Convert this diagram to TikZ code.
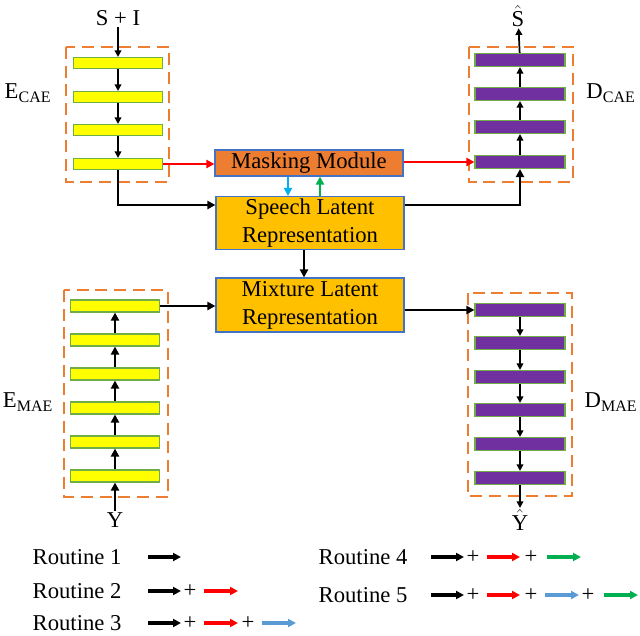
\documentclass[tikz,border=0pt]{standalone}
\usepackage{fontspec}
\setmainfont{Liberation Serif}
\usetikzlibrary{arrows.meta}
\definecolor{dorange}{RGB}{237,125,49}
\definecolor{ybar}{RGB}{255,255,0}
\definecolor{pbar}{RGB}{112,48,160}
\definecolor{gedge}{RGB}{112,173,71}
\definecolor{lat}{RGB}{255,192,0}
\definecolor{mask}{RGB}{237,125,49}
\definecolor{bedge}{RGB}{68,114,196}
\definecolor{cblue}{RGB}{0,176,240}
\definecolor{lblue}{RGB}{91,155,213}
\definecolor{cgreen}{RGB}{0,176,80}
\definecolor{cred}{RGB}{255,0,0}
\tikzset{
 every node/.style={font=\fontsize{17}{19}\selectfont},
 dbox/.style={draw=dorange,line width=2.2pt,dash pattern=on 9pt off 5pt},
 ybar/.style={draw=gedge,fill=ybar,line width=0.8pt},
 pbar/.style={draw=gedge,fill=pbar,line width=0.8pt},
 latent/.style={draw=bedge,fill=lat,line width=0.8pt,align=center,inner sep=0pt},
 arr/.style={line width=1.3pt,-{Triangle[length=5pt,width=5pt]}},
 carr/.style={line width=1.6pt,-{Triangle[length=6pt,width=6pt]}},
 thk/.style={line width=2.2pt,-{Triangle[length=6pt,width=6pt]}},
 larr/.style={line width=2.4pt,-{Triangle[length=6pt,width=6pt]}},
}
\begin{document}
\begin{tikzpicture}[x=0.75pt,y=-0.75pt]
\useasboundingbox (0,0) rectangle (640,636);
% dashed boxes
\draw[dbox] (66,47) rectangle (169,182);
\draw[dbox] (469,47) rectangle (573,182);
\draw[dbox] (64,290) rectangle (168,497);
\draw[dbox] (468,293) rectangle (572,496);
% ECAE bars
\foreach \i/\y in {1/63,2/97,3/130,4/164}
  \node[ybar,minimum width=89*0.75pt,minimum height=11*0.75pt,inner sep=0pt] (ec\i) at (118,\y) {};
% DCAE bars
\foreach \i/\y in {1/60,2/94,3/127,4/162}
  \node[pbar,minimum width=90*0.75pt,minimum height=13*0.75pt,inner sep=0pt] (dc\i) at (520,\y) {};
% EMAE bars
\foreach \i/\y in {1/306,2/340,3/374,4/408,5/442,6/476}
  \node[ybar,minimum width=89*0.75pt,minimum height=12*0.75pt,inner sep=0pt] (em\i) at (115,\y) {};
% DMAE bars
\foreach \i/\y in {1/310,2/343,3/377,4/410,5/444,6/478}
  \node[pbar,minimum width=90*0.75pt,minimum height=13*0.75pt,inner sep=0pt] (dm\i) at (520,\y) {};
% central boxes
\node[latent,fill=mask,minimum width=188*0.75pt,minimum height=26*0.75pt] (mm) at (309,163) {Masking Module};
\node[latent,minimum width=188*0.75pt,minimum height=53*0.75pt] (sl) at (310,223) {Speech Latent\\[2pt]Representation};
\node[latent,minimum width=188*0.75pt,minimum height=54*0.75pt] (ml) at (310,305) {Mixture Latent\\[2pt]Representation};
% labels
\node[inner sep=1pt] (si) at (118,18) {S + I};
\node[inner sep=1pt] (sh) at (518,16) {$\hat{\mathrm{S}}$};
\node[inner sep=1pt] (y) at (115,520) {Y};
\node[inner sep=1pt] (yh) at (520,520) {$\hat{\mathrm{Y}}$};
\node at (28,93) {E\textsubscript{\fontsize{12}{12}\selectfont CAE}};
\node at (611,93) {D\textsubscript{\fontsize{12}{12}\selectfont CAE}};
\node at (28,402) {E\textsubscript{\fontsize{12}{12}\selectfont MAE}};
\node at (611,402) {D\textsubscript{\fontsize{12}{12}\selectfont MAE}};
% ECAE arrows
\draw[arr] (si) -- (ec1);
\draw[arr] (ec1) -- (ec2);
\draw[arr] (ec2) -- (ec3);
\draw[arr] (ec3) -- (ec4);
% DCAE arrows
\draw[arr] (dc4) -- (dc3);
\draw[arr] (dc3) -- (dc2);
\draw[arr] (dc2) -- (dc1);
\draw[arr] (dc1) -- (sh);
% EMAE arrows
\draw[thk] (y) -- (em6);
\draw[thk] (em6) -- (em5);
\draw[thk] (em5) -- (em4);
\draw[thk] (em4) -- (em3);
\draw[thk] (em3) -- (em2);
\draw[thk] (em2) -- (em1);
% DMAE arrows
\draw[arr] (dm1) -- (dm2);
\draw[arr] (dm2) -- (dm3);
\draw[arr] (dm3) -- (dm4);
\draw[arr] (dm4) -- (dm5);
\draw[arr] (dm5) -- (dm6);
\draw[arr] (dm6) -- (yh);
% red
\draw[carr,cred] (ec4.east) -- (mm.west |- ec4.east);
\draw[carr,cred] (mm.east |- dc4.west) -- (dc4.west);
% blue/green
\draw[carr,cblue] (mm.south -| 288,0) -- (sl.north -| 288,0);
\draw[carr,cgreen] (sl.north -| 320,0) -- (mm.south -| 320,0);
% black main
\draw[thk] (ec4.south) |- (sl.west |- 0,205);
\draw[thk] (sl.east |- 0,205) -| (dc4.south);
\draw[thk] (sl.south -| 304,0) -- (ml.north -| 304,0);
\draw[thk] (em1.east) -- (ml.west |- em1.east);
\draw[thk] (ml.east |- dm1.west) -- (dm1.west);
% legend
\node[anchor=west] (r1) at (28,557) {Routine 1};
\node[anchor=west] (r2) at (28,591) {Routine 2};
\node[anchor=west] (r3) at (28,623) {Routine 3};
\node[anchor=west] (r4) at (314,557) {Routine 4};
\node[anchor=west] (r5) at (314,595) {Routine 5};
\coordinate (a1) at (148,557); \coordinate (b1) at (181,557);
\draw[larr] (a1) -- (b1);
\foreach \y/\n in {591/2,623/3}{
  \coordinate (p\n) at (148,\y); \coordinate (q\n) at (181,\y);
  \draw[larr] (p\n) -- (q\n);
  \node at (190,\y) {+};
  \coordinate (s\n) at (204,\y); \coordinate (t\n) at (238,\y);
  \draw[larr,cred] (s\n) -- (t\n);
}
\node at (248,623) {+};
\coordinate (u3) at (262,623); \coordinate (v3) at (296,623);
\draw[larr,lblue] (u3) -- (v3);
\foreach \y/\n in {557/4,595/5}{
  \coordinate (p\n) at (431,\y); \coordinate (q\n) at (464,\y);
  \draw[larr] (p\n) -- (q\n);
  \node at (473,\y) {+};
  \coordinate (s\n) at (487,\y); \coordinate (t\n) at (520,\y);
  \draw[larr,cred] (s\n) -- (t\n);
  \node at (531,\y) {+};
}
\coordinate (g4a) at (547,557); \coordinate (g4b) at (581,557);
\draw[larr,cgreen] (g4a) -- (g4b);
\coordinate (u5) at (545,595); \coordinate (v5) at (579,595);
\draw[larr,lblue] (u5) -- (v5);
\node at (588,595) {+};
\coordinate (g5a) at (604,595); \coordinate (g5b) at (638,595);
\draw[larr,cgreen] (g5a) -- (g5b);
\end{tikzpicture}
\end{document}
